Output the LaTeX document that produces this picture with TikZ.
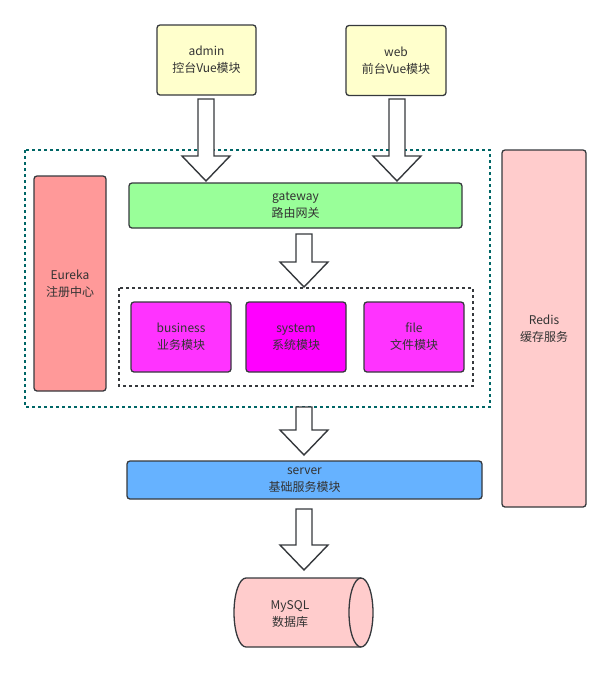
\documentclass[tikz,border=0pt]{standalone}
\usepackage{fontspec}
\setmainfont{Noto Sans CJK SC}
\usetikzlibrary{calc}
\definecolor{strokec}{HTML}{36393D}
\definecolor{txt}{HTML}{333333}
\definecolor{yel}{HTML}{FFFFCC}
\definecolor{grn}{HTML}{99FF99}
\definecolor{eur}{HTML}{FF9999}
\definecolor{mag}{HTML}{FF33FF}
\definecolor{magd}{HTML}{FF00FF}
\definecolor{blu}{HTML}{66B2FF}
\definecolor{pnk}{HTML}{FFCCCC}
\definecolor{teal2}{HTML}{006666}
\tikzset{
  box/.style={draw=strokec, line width=1.3pt, rounded corners=3pt, inner sep=0pt,
    align=center, text=txt, font=\fontsize{12}{17}\selectfont},
  barrow/.style={draw=strokec, fill=white, line width=1.4pt, line join=miter},
  dotbox/.style={line width=1.6pt, dash pattern=on 3pt off 3pt},
}
% #1 centre x, #2 shaft top y, #3 tip y (pixels from top)
\newcommand\blockarr[3]{%
  \draw[barrow] (#1-8,-#2) -- (#1+8,-#2) -- (#1+8,-#3+25) -- (#1+24,-#3+25)
    -- (#1,-#3) -- (#1-24,-#3+25) -- (#1-8,-#3+25) -- cycle;}
\begin{document}
\begin{tikzpicture}[x=1pt,y=1pt]
\useasboundingbox (0,0) rectangle (610,-673);
% outer dotted frame
\draw[dotbox, teal2] (25,-150) rectangle (490,-407);
% inner dotted frame
\draw[dotbox, strokec] (119,-288) rectangle (473,-386);
% nodes
\node[box, fill=yel, minimum width=99, minimum height=70] (admin) at (206.5,-60) {admin\\控台Vue模块};
\node[box, fill=yel, minimum width=100, minimum height=70] (web) at (396,-60.5) {web\\前台Vue模块};
\node[box, fill=grn, minimum width=333, minimum height=45] (gateway) at (295.5,-205.5) {gateway\\路由网关};
\node[box, fill=eur, minimum width=72, minimum height=215] (eureka) at (70,-283.5) {Eureka\\注册中心};
\node[box, fill=mag, minimum width=100, minimum height=70] (business) at (181,-337) {business\\业务模块};
\node[box, fill=magd, minimum width=100, minimum height=70] (system) at (296,-337) {system\\系统模块};
\node[box, fill=mag, minimum width=100, minimum height=70] (file) at (414,-337) {file\\文件模块};
\node[box, fill=blu, minimum width=355, minimum height=38] (server) at (304.5,-480) {server\\基础服务模块};
\node[box, fill=pnk, minimum width=84, minimum height=357] (redis) at (544,-328.5) {Redis\\缓存服务};
% MySQL cylinder
\draw[draw=strokec, fill=pnk, line width=1.3pt] (246,-578) -- (361,-578)
  arc[start angle=90, end angle=-90, x radius=12, y radius=34.5] -- (246,-647)
  arc[start angle=-90, end angle=-270, x radius=12, y radius=34.5] -- cycle;
\draw[draw=strokec, line width=1.3pt] (361,-578) arc[start angle=90, end angle=270, x radius=12, y radius=34.5];
\node[align=center, text=txt, font=\fontsize{12}{17}\selectfont, inner sep=0pt] (mysql) at (290,-614) {MySQL\\数据库};
% block arrows
\blockarr{206}{99}{181}
\blockarr{397}{99}{181}
\blockarr{304}{234}{287}
\blockarr{304}{407}{455}
\blockarr{304}{509}{570}
\end{tikzpicture}
\end{document}
